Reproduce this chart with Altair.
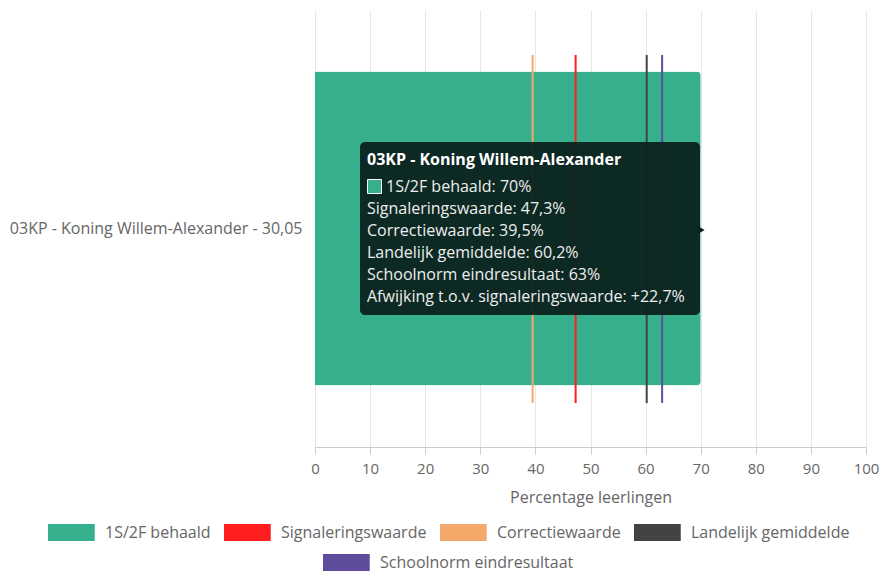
import altair as alt
import pandas as pd

# ---- data ----
school = ["03KP - Koning Willem-Alexander - 30,05"]
tooltip_title = "03KP - Koning Willem-Alexander"
bar_name = "1S/2F behaald"
bar_value = [70]
ref_names = ["Signaleringswaarde", "Correctiewaarde", "Landelijk gemiddelde", "Schoolnorm eindresultaat"]
ref_values = [47.3, 39.5, 60.2, 63]
colors = ["#36b08c", "#ff1f1f", "#f4a96a", "#434343", "#5f4c9d"]
x_ticks = list(range(0, 101, 10))
x_title = "Percentage leerlingen"

FONT = "Open Sans"
FS = 16
legend_names = [bar_name] + ref_names


def nl(v):
    return f"{round(v, 1):g}".replace(".", ",")


afwijking = bar_value[0] - ref_values[0]
tip_line1 = f"{bar_name}: {nl(bar_value[0])}%"
tip_rest = [f"{n}: {nl(v)}%" for n, v in zip(ref_names, ref_values)] + [
    f"Afwijking t.o.v. signaleringswaarde: +{nl(afwijking)}%"
]

bar_df = pd.DataFrame({"school": school, "serie": [bar_name], "waarde": bar_value})
ref_df = pd.DataFrame({"serie": ref_names[:3], "waarde": ref_values[:3]})
norm_df = pd.DataFrame({"serie": ref_names[3:], "waarde": ref_values[3:]})
tip_df = pd.DataFrame({"title": [tooltip_title], "line1": [tip_line1], "rest": [tip_rest]})

SYMBOL = "M-1,-1H4.5V1H-1Z"

color_scale = alt.Scale(domain=legend_names[:4], range=colors[:4])

x_enc = alt.X(
    "waarde:Q",
    scale=alt.Scale(domain=[0, 100], nice=False),
    axis=alt.Axis(
        values=x_ticks,
        title=x_title,
        titleFont=FONT,
        titleFontSize=FS,
        titleFontWeight="normal",
        titleColor="#666666",
        titlePadding=13,
        labelFont=FONT,
        labelFontSize=15,
        labelColor="#666666",
        labelPadding=7,
        labelFlush=False,
        grid=True,
        gridColor="#e6e6e6",
        domainColor="#cccccc",
        tickColor="#cccccc",
        tickSize=7,
    ),
)

bar = (
    alt.Chart(bar_df)
    .mark_bar(cornerRadiusEnd=4)
    .encode(
        x=x_enc,
        y=alt.Y(
            "school:N",
            scale=alt.Scale(paddingInner=0, paddingOuter=0.196),
            axis=alt.Axis(
                title=None,
                domain=False,
                ticks=False,
                labelFont=FONT,
                labelFontSize=FS,
                labelColor="#666666",
                labelPadding=13,
                labelLimit=400,
            ),
        ),
        color=alt.Color(
            "serie:N",
            scale=color_scale,
            legend=alt.Legend(
                orient="none",
                legendX=-267,
                legendY=514,
                direction="horizontal",
                title=None,
                symbolType=SYMBOL,
                symbolSize=289,
                symbolStrokeWidth=0,
                symbolOpacity=1,
                labelFont=FONT,
                labelFontSize=FS,
                labelColor="#666666",
                labelOffset=40,
                labelLimit=300,
                columnPadding=13,
                padding=0,
            ),
        ),
    )
)

rules = (
    alt.Chart(ref_df)
    .mark_rule(strokeWidth=2)
    .encode(
        x="waarde:Q",
        y=alt.value(45),
        y2=alt.value(393),
        color=alt.Color("serie:N", scale=color_scale, legend=None),
    )
)

norm = (
    alt.Chart(norm_df)
    .mark_rule(strokeWidth=2)
    .encode(
        x="waarde:Q",
        y=alt.value(45),
        y2=alt.value(393),
        stroke=alt.Stroke(
            "serie:N",
            scale=alt.Scale(domain=ref_names[3:], range=colors[4:]),
            legend=alt.Legend(
                orient="none",
                legendX=8,
                legendY=544,
                direction="horizontal",
                title=None,
                symbolType=SYMBOL,
                symbolSize=289,
                symbolStrokeWidth=0,
                symbolFillColor=colors[4],
                symbolOpacity=1,
                labelFont=FONT,
                labelFontSize=FS,
                labelColor="#666666",
                labelOffset=40,
                labelLimit=300,
                padding=0,
            ),
        ),
    )
)

tip_box = (
    alt.Chart(tip_df)
    .mark_rect(cornerRadius=5, color="#0c221e", opacity=0.95)
    .encode(x=alt.value(45), x2=alt.value(385), y=alt.value(132), y2=alt.value(305))
)
tip_arrow = (
    alt.Chart(tip_df)
    .mark_point(shape="triangle-right", filled=True, size=70, color="#0c221e", opacity=1)
    .encode(x=alt.value(386), y=alt.value(220))
)
tip_swatch = (
    alt.Chart(tip_df)
    .mark_square(size=196, color=colors[0], stroke="#ffffff", strokeWidth=1, opacity=1)
    .encode(x=alt.value(59.5), y=alt.value(176.5))
)
tip_title = (
    alt.Chart(tip_df)
    .mark_text(align="left", baseline="middle", font=FONT, fontSize=FS, fontWeight="bold", color="#ffffff")
    .encode(x=alt.value(52), y=alt.value(150), text="title:N")
)
tip_l1 = (
    alt.Chart(tip_df)
    .mark_text(align="left", baseline="middle", font=FONT, fontSize=FS, color="#eeeeee")
    .encode(x=alt.value(71), y=alt.value(177), text="line1:N")
)
tip_rest_txt = (
    alt.Chart(tip_df)
    .mark_text(align="left", baseline="middle", font=FONT, fontSize=FS, color="#eeeeee", lineHeight=22)
    .encode(x=alt.value(52), y=alt.value(199), text="rest")
)

chart = (
    alt.layer(bar, rules, norm, tip_box, tip_arrow, tip_swatch, tip_title, tip_l1, tip_rest_txt)
    .resolve_scale(color="independent", stroke="independent")
    .properties(
        width=551,
        height=437,
        autosize=alt.AutoSizeParams(type="none"),
        padding={"left": 307, "top": 2, "right": 15, "bottom": 124},
    )
    .configure_view(stroke=None)
)

chart.save("out.html", embed_options={"renderer": "svg", "actions": False})
